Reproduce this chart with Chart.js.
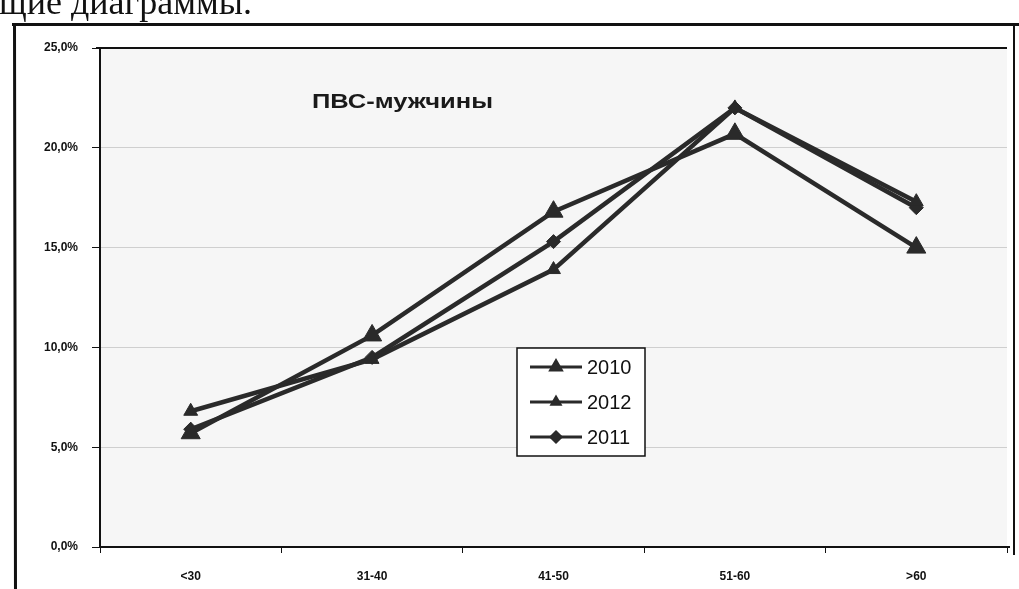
<!DOCTYPE html>
<html>
<head>
<meta charset="utf-8">
<script src="https://cdn.jsdelivr.net/npm/chart.js@4"></script>
<style>
  html, body { margin:0; padding:0; background:#fff; }
  #wrap { position:relative; width:1019px; height:589px; overflow:hidden; }
  #top { position:absolute; left:-1px; top:-19px; font-family:"Liberation Serif","DejaVu Serif",serif; font-size:36px; color:#111; white-space:nowrap; }
  canvas { position:absolute; left:0; top:0; }
</style>
</head>
<body>
<div id="wrap">
  <canvas id="c" width="1019" height="589"></canvas>
  <div id="top">щие диаграммы.</div>
</div>
<script>
const categories = ["<30", "31-40", "41-50", "51-60", ">60"];
const seriesNames = ["2010", "2012", "2011"];
const values2010 = [5.7, 10.6, 16.8, 20.7, 15.0];
const values2012 = [6.8, 9.4, 13.9, 22.0, 17.3];
const values2011 = [5.9, 9.5, 15.3, 22.0, 17.0];
const yTicks = [0, 5, 10, 15, 20, 25];
const chartTitle = "ПВС-мужчины";

const INK = '#2a2a2a';
const markerStyles = [
  { pointStyle: 'triangle', radius: 11 },
  { pointStyle: 'triangle', radius: 8 },
  { pointStyle: 'rectRot', radius: 7 }
];
const seriesValues = [values2010, values2012, values2011];

const datasets = seriesNames.map((n, i) => ({
  label: n,
  data: seriesValues[i],
  borderColor: INK,
  backgroundColor: INK,
  borderWidth: 4.5,
  tension: 0,
  pointStyle: markerStyles[i].pointStyle,
  pointRadius: markerStyles[i].radius,
  pointHoverRadius: markerStyles[i].radius,
  pointBackgroundColor: INK,
  pointBorderColor: INK,
  pointBorderWidth: 1
}));

const decor = {
  id: 'decor',
  beforeDraw(chart) {
    const ctx = chart.ctx, a = chart.chartArea;
    ctx.save();
    ctx.fillStyle = '#fff';
    ctx.fillRect(0, 0, chart.width, chart.height);
    ctx.fillStyle = '#f6f6f6';
    ctx.fillRect(a.left, a.top, a.right - a.left, a.bottom - a.top);
    ctx.restore();
  },
  afterDraw(chart) {
    const ctx = chart.ctx, a = chart.chartArea;
    ctx.save();
    ctx.strokeStyle = '#111';
    ctx.lineWidth = 2;
    ctx.beginPath();
    ctx.moveTo(a.left - 4, a.top);
    ctx.lineTo(a.right, a.top);
    ctx.moveTo(a.left, a.bottom);
    ctx.lineTo(a.right + 3, a.bottom);
    ctx.stroke();
    ctx.lineWidth = 3;
    ctx.beginPath();
    ctx.moveTo(12, 24.5);
    ctx.lineTo(1019, 24.5);
    ctx.moveTo(14.5, 23);
    ctx.lineTo(15.5, 589);
    ctx.stroke();
    ctx.lineWidth = 2;
    ctx.beginPath();
    ctx.moveTo(1014, 25);
    ctx.lineTo(1014, 555);
    ctx.stroke();

    ctx.fillStyle = '#1a1a1a';
    ctx.font = 'bold 21px "Liberation Sans", Arial, sans-serif';
    ctx.textBaseline = 'middle';
    ctx.textAlign = 'left';
    const tw = ctx.measureText(chartTitle).width;
    const sx = 181 / tw;
    ctx.save();
    ctx.translate(312, 102);
    ctx.scale(sx, 1);
    ctx.fillText(chartTitle, 0, 0);
    ctx.restore();

    const bx = 517, by = 348, bw = 128, bh = 108;
    ctx.fillStyle = '#fff';
    ctx.fillRect(bx, by, bw, bh);
    ctx.strokeStyle = '#111';
    ctx.lineWidth = 1.5;
    ctx.strokeRect(bx, by, bw, bh);
    const rows = [367, 402, 437];
    chart.data.datasets.forEach((ds, i) => {
      const y = rows[i];
      ctx.strokeStyle = INK;
      ctx.lineWidth = 3;
      ctx.beginPath();
      ctx.moveTo(530, y);
      ctx.lineTo(582, y);
      ctx.stroke();
      Chart.helpers.drawPoint(ctx, {
        pointStyle: ds.pointStyle,
        radius: i === 0 ? 6 : (i === 1 ? 4.5 : 5),
        rotation: 0,
        borderWidth: 1
      }, 556, y);
      ctx.fillStyle = INK;
      ctx.fill();
      ctx.fillStyle = '#111';
      ctx.font = '20px "Liberation Sans", Arial, sans-serif';
      ctx.textBaseline = 'middle';
      ctx.fillText(ds.label, 587, y + 1);
    });
    ctx.restore();
  }
};

new Chart(document.getElementById('c'), {
  type: 'line',
  data: { labels: categories, datasets },
  plugins: [decor],
  options: {
    responsive: false,
    animation: false,
    layout: { padding: { left: 0, top: 48, right: 5, bottom: 0 } },
    plugins: { legend: { display: false }, title: { display: false }, tooltip: { enabled: false } },
    scales: {
      x: {
        type: 'category',
        offset: true,
        afterFit(s) { s.height = 42; },
        grid: { display: true, drawOnChartArea: false, drawTicks: true, tickLength: 6, color: '#111', offset: true },
        border: { display: true, color: '#111', width: 2 },
        ticks: {
          color: '#111',
          padding: 16,
          font: { family: '"Liberation Sans", Arial, sans-serif', size: 12, weight: 'bold' }
        }
      },
      y: {
        min: 0,
        max: 25,
        afterFit(s) { s.width = 100; },
        afterBuildTicks(s) { s.ticks = yTicks.map(v => ({ value: v })); },
        grid: {
          drawTicks: true,
          tickLength: 8,
          tickColor: '#111',
          color: ctx => (ctx.tick && (ctx.tick.value === 0 || ctx.tick.value === 25)) ? 'rgba(0,0,0,0)' : '#cfcfcf',
          lineWidth: 1
        },
        border: { display: true, color: '#111', width: 2 },
        ticks: {
          color: '#111',
          padding: 14,
          font: { family: '"Liberation Sans", Arial, sans-serif', size: 12, weight: 'bold' },
          callback: v => v.toFixed(1).replace('.', ',') + '%'
        }
      }
    }
  }
});
</script>
</body>
</html>
